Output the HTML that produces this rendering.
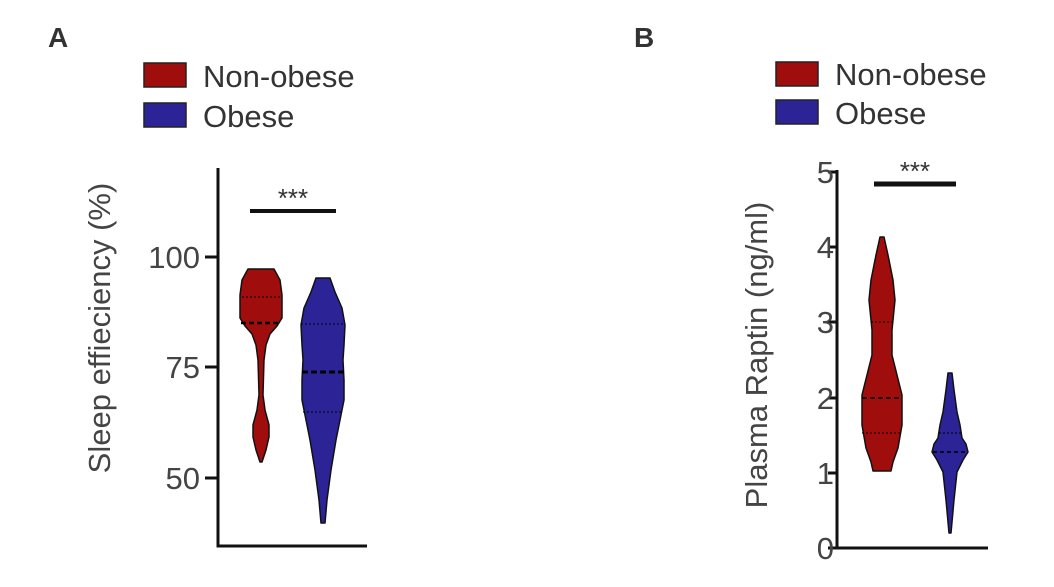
<!DOCTYPE html>
<html><head><meta charset="utf-8"><style>
html,body{margin:0;padding:0;background:#fff;}
svg{display:block;font-family:"Liberation Sans",sans-serif;}
</style></head><body>
<svg id="s" width="1054" height="587" viewBox="0 0 1054 587">
<rect width="1054" height="587" fill="#fff"/>
<text x="48" y="47" font-size="28" font-weight="bold" fill="#333">A</text>
<text x="634" y="47" font-size="28" font-weight="bold" fill="#333">B</text>
<rect x="144" y="63" width="42" height="24" fill="#a00d0d" stroke="#222" stroke-width="1.5"/>
<rect x="144" y="103" width="42" height="24" fill="#2b2396" stroke="#222" stroke-width="1.5"/>
<text x="203" y="87" font-size="31" fill="#333">Non-obese</text>
<text x="203" y="127" font-size="31" fill="#333">Obese</text>
<rect x="776" y="62" width="42" height="24" fill="#a00d0d" stroke="#222" stroke-width="1.5"/>
<rect x="776" y="100" width="42" height="24" fill="#2b2396" stroke="#222" stroke-width="1.5"/>
<text x="835" y="85" font-size="31" fill="#333">Non-obese</text>
<text x="835" y="124" font-size="31" fill="#333">Obese</text>
<g stroke="#111" stroke-width="3" fill="none">
<path d="M218 168 V546 H367"/>
<path d="M205 257 H218 M205 367 H218 M205 478 H218"/>
<path d="M837 170 V548 H988"/>
<path d="M828 172 H837 M828 247 H837 M828 322 H837 M828 398 H837 M828 473 H837 M828 548 H837"/>
<path d="M250 211 H336" stroke-width="4"/>
<path d="M874 184 H956" stroke-width="5"/>
</g>
<g font-size="31" fill="#444" text-anchor="end">
<text x="200" y="268">100</text><text x="200" y="378">75</text><text x="200" y="489">50</text>
<text x="834" y="183">5</text><text x="834" y="258">4</text><text x="834" y="333">3</text>
<text x="834" y="409">2</text><text x="834" y="484">1</text><text x="834" y="559">0</text>
</g>
<text font-size="31" fill="#444" text-anchor="middle" transform="translate(110,328) rotate(-90)">Sleep effieciency (%)</text>
<text font-size="31" fill="#444" text-anchor="middle" transform="translate(767,355) rotate(-90)">Plasma Raptin (ng/ml)</text>
<text x="293" y="207" font-size="26" fill="#333" text-anchor="middle">***</text>
<text x="915" y="180" font-size="26" fill="#333" text-anchor="middle">***</text>
<g id="v"></g>
</svg>
<script>
function vp(cx,pts,fill){
  var r=pts.map(function(p){return (cx+p[1])+","+p[0];});
  var l=pts.slice().reverse().map(function(p){return (cx-p[1])+","+p[0];});
  return '<polygon points="'+r.concat(l).join(" ")+'" fill="'+fill+'" stroke="#111" stroke-width="1.5" stroke-linejoin="round"/>';
}
function ln(cx,y,w,dash,sw){return '<line x1="'+(cx-w)+'" x2="'+(cx+w)+'" y1="'+y+'" y2="'+y+'" stroke="#000" stroke-width="'+sw+'" stroke-dasharray="'+dash+'"/>';}
var h="";
h+=vp(261,[[269,13],[280,19],[295,21],[318,21],[326,16],[334,9],[345,5],[360,3],[395,2],[410,4],[425,8],[437,8],[450,5],[462,1]],"#a00d0d");
h+=ln(261,323,20,"5,3",2.5)+ln(261,297,19,"2,2",1);
h+=vp(323,[[278,7],[292,12],[308,19],[325,22],[345,21],[360,20],[380,21],[400,21],[420,17],[440,13],[470,8],[500,4],[523,2]],"#2b2396");
h+=ln(323,372,21,"6,3",3)+ln(323,324,22,"2,2",1)+ln(323,412,20,"2,2",1);
h+=vp(882,[[237,2],[255,6],[280,11],[300,13],[330,10],[355,10],[375,15],[395,20],[425,20],[448,16],[462,11],[471,9]],"#a00d0d");
h+=ln(882,398,20,"5,3",1.5)+ln(882,322,11,"2,2",1)+ln(882,433,20,"2,2",1);
h+=vp(950,[[373,2],[390,4],[412,7],[425,10],[438,12],[444,16],[452,18],[460,13],[472,7],[500,4],[533,1]],"#2b2396");
h+=ln(950,452,17,"4,3",1.5)+ln(950,433,11,"2,2",1);
document.getElementById("v").innerHTML=h;
</script>
</body></html>
